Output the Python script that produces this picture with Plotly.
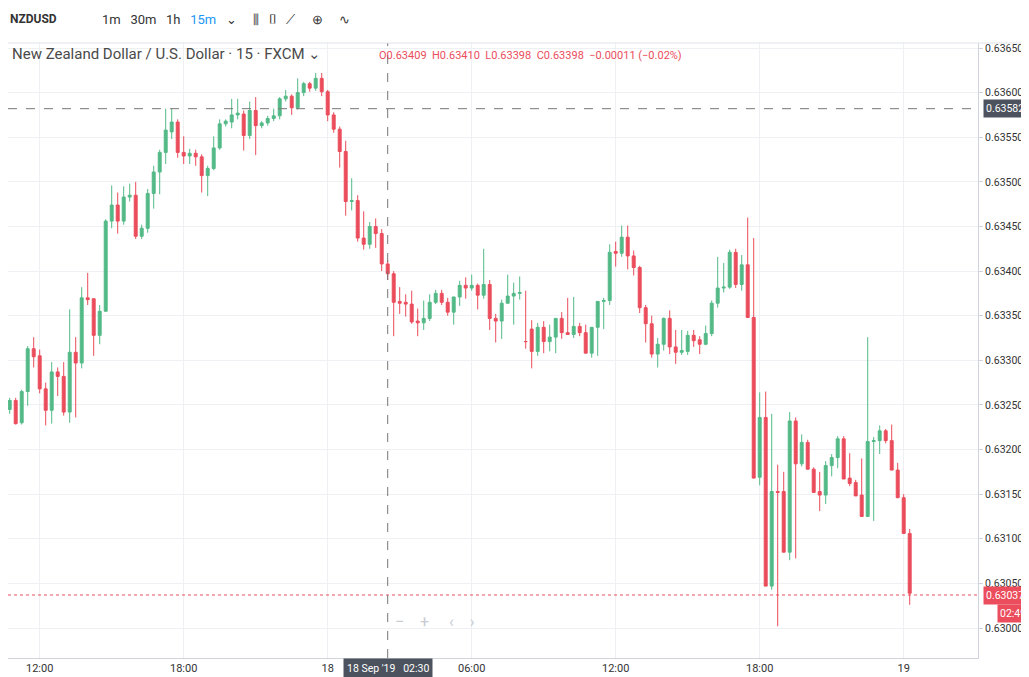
import plotly.graph_objects as go
import pandas as pd

start_time = "2019-09-17 10:45"
opens = [.63245,.63255,.63230,.63265,.63313,.63305,.63268,.63244,.63287,.63282,
         .63242,.63309,.63297,.63370,.63369,.63328,.63355,.63456,.63474,.63456,
         .63483,.63485,.63439,.63448,.63487,.63511,.63533,.63556,.63567,.63533,
         .63529,.63532,.63528,.63507,.63515,.63538,.63565,.63567,.63575,.63576,
         .63552,.63580,.63563,.63566,.63571,.63574,.63593,.63596,.63583,.63600,
         .63610,.63605,.63616,.63601,.63575,.63559,.63534,.63478,.63479,.63437,
         .63430,.63450,.63442,.63408,.63397,.63366,.63365,.63363,.63344,.63342,
         .63347,.63365,.63375,.63365,.63354,.63371,.63384,.63381,.63384,.63373,
         .63385,.63347,.63344,.63364,.63372,.63375,.63321,.63335,.63310,.63337,
         .63321,.63326,.63347,.63331,.63329,.63338,.63331,.63308,.63337,.63366,
         .63367,.63422,.63420,.63438,.63417,.63404,.63359,.63341,.63307,.63318,
         .63347,.63315,.63309,.63310,.63328,.63323,.63318,.63330,.63364,.63381,
         .63382,.63421,.63385,.63407,.63348,.63169,.63236,.63047,.63153,.63153,
         .63085,.63232,.63184,.63208,.63178,.63153,.63149,.63182,.63191,.63212,
         .63168,.63163,.63149,.63125,.63209,.63210,.63221,.63210,.63177,.63146,
         .63106]
closes = [.63255,.63229,.63265,.63313,.63304,.63268,.63244,.63287,.63282,.63242,
          .63309,.63297,.63370,.63368,.63328,.63355,.63456,.63474,.63456,.63483,
          .63485,.63439,.63448,.63487,.63511,.63533,.63558,.63567,.63533,.63529,
          .63532,.63528,.63507,.63515,.63538,.63565,.63568,.63575,.63577,.63552,
          .63580,.63563,.63566,.63571,.63574,.63593,.63596,.63583,.63600,.63610,
          .63605,.63616,.63601,.63575,.63559,.63534,.63478,.63479,.63437,.63430,
          .63450,.63442,.63408,.63397,.63365,.63364,.63363,.63343,.63342,.63347,
          .63365,.63375,.63365,.63354,.63371,.63384,.63381,.63384,.63373,.63385,
          .63347,.63344,.63364,.63372,.63375,.63376,.63321,.63310,.63337,.63321,
          .63326,.63347,.63331,.63329,.63338,.63331,.63308,.63337,.63366,.63367,
          .63421,.63420,.63438,.63417,.63404,.63359,.63341,.63307,.63318,.63347,
          .63315,.63309,.63311,.63328,.63322,.63318,.63330,.63364,.63381,.63382,
          .63421,.63385,.63407,.63348,.63168,.63236,.63047,.63153,.63152,.63085,
          .63232,.63184,.63208,.63178,.63152,.63149,.63182,.63191,.63212,.63167,
          .63162,.63148,.63125,.63209,.63210,.63221,.63210,.63177,.63146,.63106,
          .63039]
highs = [.63258,.63258,.63267,.63316,.63326,.63312,.63275,.63298,.63292,.63298,
         .63357,.63326,.63382,.63398,.63369,.63362,.63458,.63496,.63488,.63495,
         .63498,.63500,.63452,.63492,.63518,.63536,.63582,.63582,.63570,.63551,
         .63537,.63536,.63531,.63518,.63551,.63570,.63570,.63593,.63593,.63580,
         .63590,.63595,.63568,.63574,.63582,.63595,.63603,.63598,.63616,.63612,
         .63612,.63622,.63622,.63603,.63578,.63562,.63546,.63504,.63485,.63467,
         .63455,.63459,.63447,.63412,.63400,.63382,.63374,.63378,.63358,.63367,
         .63374,.63379,.63379,.63370,.63371,.63389,.63393,.63396,.63386,.63425,
         .63390,.63352,.63368,.63396,.63387,.63394,.63378,.63345,.63342,.63344,
         .63340,.63330,.63354,.63370,.63371,.63342,.63340,.63312,.63342,.63370,
         .63430,.63433,.63451,.63451,.63423,.63406,.63362,.63350,.63325,.63348,
         .63356,.63334,.63334,.63333,.63334,.63327,.63339,.63367,.63416,.63409,
         .63424,.63425,.63418,.63460,.63437,.63264,.63265,.63240,.63183,.63175,
         .63242,.63236,.63217,.63211,.63180,.63175,.63187,.63195,.63215,.63215,
         .63196,.63166,.63190,.63326,.63214,.63227,.63223,.63228,.63185,.63150,
         .63111]
lows = [.63240,.63228,.63228,.63249,.63292,.63263,.63227,.63229,.63260,.63238,
        .63230,.63236,.63291,.63362,.63305,.63318,.63450,.63448,.63442,.63452,
        .63478,.63436,.63436,.63443,.63470,.63486,.63520,.63548,.63527,.63520,
        .63520,.63518,.63488,.63484,.63513,.63536,.63562,.63560,.63570,.63535,
        .63548,.63530,.63560,.63563,.63568,.63570,.63590,.63575,.63581,.63596,
        .63601,.63602,.63596,.63568,.63555,.63516,.63462,.63468,.63433,.63424,
        .63425,.63426,.63400,.63390,.63327,.63352,.63349,.63341,.63327,.63334,
        .63344,.63363,.63362,.63350,.63340,.63361,.63369,.63378,.63357,.63369,
        .63334,.63320,.63324,.63368,.63340,.63368,.63313,.63291,.63305,.63308,
        .63310,.63308,.63324,.63330,.63325,.63327,.63308,.63303,.63305,.63335,
        .63362,.63405,.63416,.63402,.63395,.63353,.63320,.63303,.63292,.63311,
        .63307,.63296,.63306,.63306,.63315,.63307,.63317,.63327,.63359,.63376,
        .63380,.63381,.63378,.63404,.63340,.63160,.63143,.63043,.63002,.63108,
        .63076,.63078,.63181,.63180,.63166,.63131,.63139,.63170,.63179,.63172,
        .63159,.63151,.63144,.63137,.63120,.63195,.63207,.63206,.63171,.63136,
        .63026]

times = pd.date_range(start_time, periods=len(opens), freq="15min")

tick_vals = ["2019-09-17 12:00", "2019-09-17 18:00", "2019-09-18 00:00", "2019-09-18 06:00",
             "2019-09-18 12:00", "2019-09-18 18:00", "2019-09-19 00:00"]
tick_text = ["12:00", "18:00", "18", "06:00", "12:00", "18:00", "19"]
price_ticks = [0.63000 + 0.0005 * i for i in range(14)]
hover_price = 0.63582
last_price = 0.63037
hover_time = "2019-09-18 02:30"

UP, DN = "#53b987", "#eb4d5c"
fig = go.Figure(go.Candlestick(
    x=times, open=opens, high=highs, low=lows, close=closes,
    increasing=dict(line=dict(color=UP, width=1), fillcolor=UP),
    decreasing=dict(line=dict(color=DN, width=1), fillcolor=DN),
    whiskerwidth=0, showlegend=False, hoverinfo="skip"))

fig.add_hline(y=hover_price, line=dict(color="#777", width=1, dash="dash"))
fig.add_hline(y=last_price, line=dict(color=DN, width=1, dash="dot"))
fig.add_shape(type="line", xref="x", yref="paper", x0=hover_time, x1=hover_time, y0=0, y1=1,
              line=dict(color="#777", width=1, dash="dash"))

fig.update_layout(
    width=1029, height=677, margin=dict(l=0, r=59, t=35, b=27),
    paper_bgcolor="white", plot_bgcolor="white",
    font=dict(family="Roboto, Arial", size=11, color="#4a4a4a"),
    xaxis=dict(range=["2019-09-17 10:40:45", "2019-09-19 03:05:45"],
               tickvals=tick_vals, ticktext=tick_text, showgrid=True, gridcolor="#eef0f4",
               rangeslider=dict(visible=False), showline=True, linecolor="#d0d3db",
               ticks="", tickfont=dict(size=11, color="#333")),
    yaxis=dict(side="right", range=[0.629664, 0.636556], tickvals=price_ticks,
               tickformat=".5f", showgrid=True, gridcolor="#eef0f4", showline=True,
               linecolor="#d0d3db", ticks="outside", ticklen=4, tickcolor="#d0d3db",
               tickfont=dict(size=10.5, color="#333")),
)

ann = []
def box(x, y, text, bg):
    ann.append(dict(x=x, y=y, xref="paper", yref="y", text=text, showarrow=False,
                    bgcolor=bg, font=dict(color="white", size=10.5), xanchor="left",
                    borderpad=2))
box(1.005, hover_price, "0.63582", "#4c525e")
box(1.005, last_price, "0.63037", DN)
box(1.02, last_price - 0.00021, "02:49", DN)
ann.append(dict(x=hover_time, y=0, xref="x", yref="paper", yanchor="top", text="18 Sep '19   02:30",
                showarrow=False, bgcolor="#4c525e", font=dict(color="white", size=10.5), borderpad=3))
ann.append(dict(x=0.002, y=1.0, xref="paper", yref="paper", xanchor="left", yanchor="top",
                text="New Zealand Dollar / U.S. Dollar · 15 · FXCM ⌄", showarrow=False,
                font=dict(size=15, color="#4a4a4a")))
ann.append(dict(x=0.38, y=0.994, xref="paper", yref="paper", xanchor="left", yanchor="top",
                text="O0.63409  H0.63410  L0.63398  C0.63398  −0.00011 (−0.02%)", showarrow=False,
                font=dict(size=11, color=DN)))
ann.append(dict(x=0.0, y=1.0, xref="paper", yref="paper", yshift=33, xanchor="left", yanchor="top",
                text="<b>NZDUSD</b>", showarrow=False, font=dict(size=12, color="#333")))
ann.append(dict(x=0.095, y=1.0, xref="paper", yref="paper", yshift=33, xanchor="left", yanchor="top",
                text="1m   30m   1h   <span style='color:#2196f3'>15m</span>   ⌄     ⫼   ⌷   ⟋     ⊕     ∿",
                showarrow=False, font=dict(size=13, color="#333")))
ann.append(dict(x=0.44, y=0.04, xref="paper", yref="paper", text="−    +     ‹    ›",
                showarrow=False, font=dict(size=16, color="#c8cbd2")))
fig.update_layout(annotations=ann)
fig.add_shape(type="line", xref="paper", yref="paper", x0=0, x1=1.07, y0=1.0, y1=1.0,
              line=dict(color="#e0e3eb", width=1))
fig.write_html("out.html")
